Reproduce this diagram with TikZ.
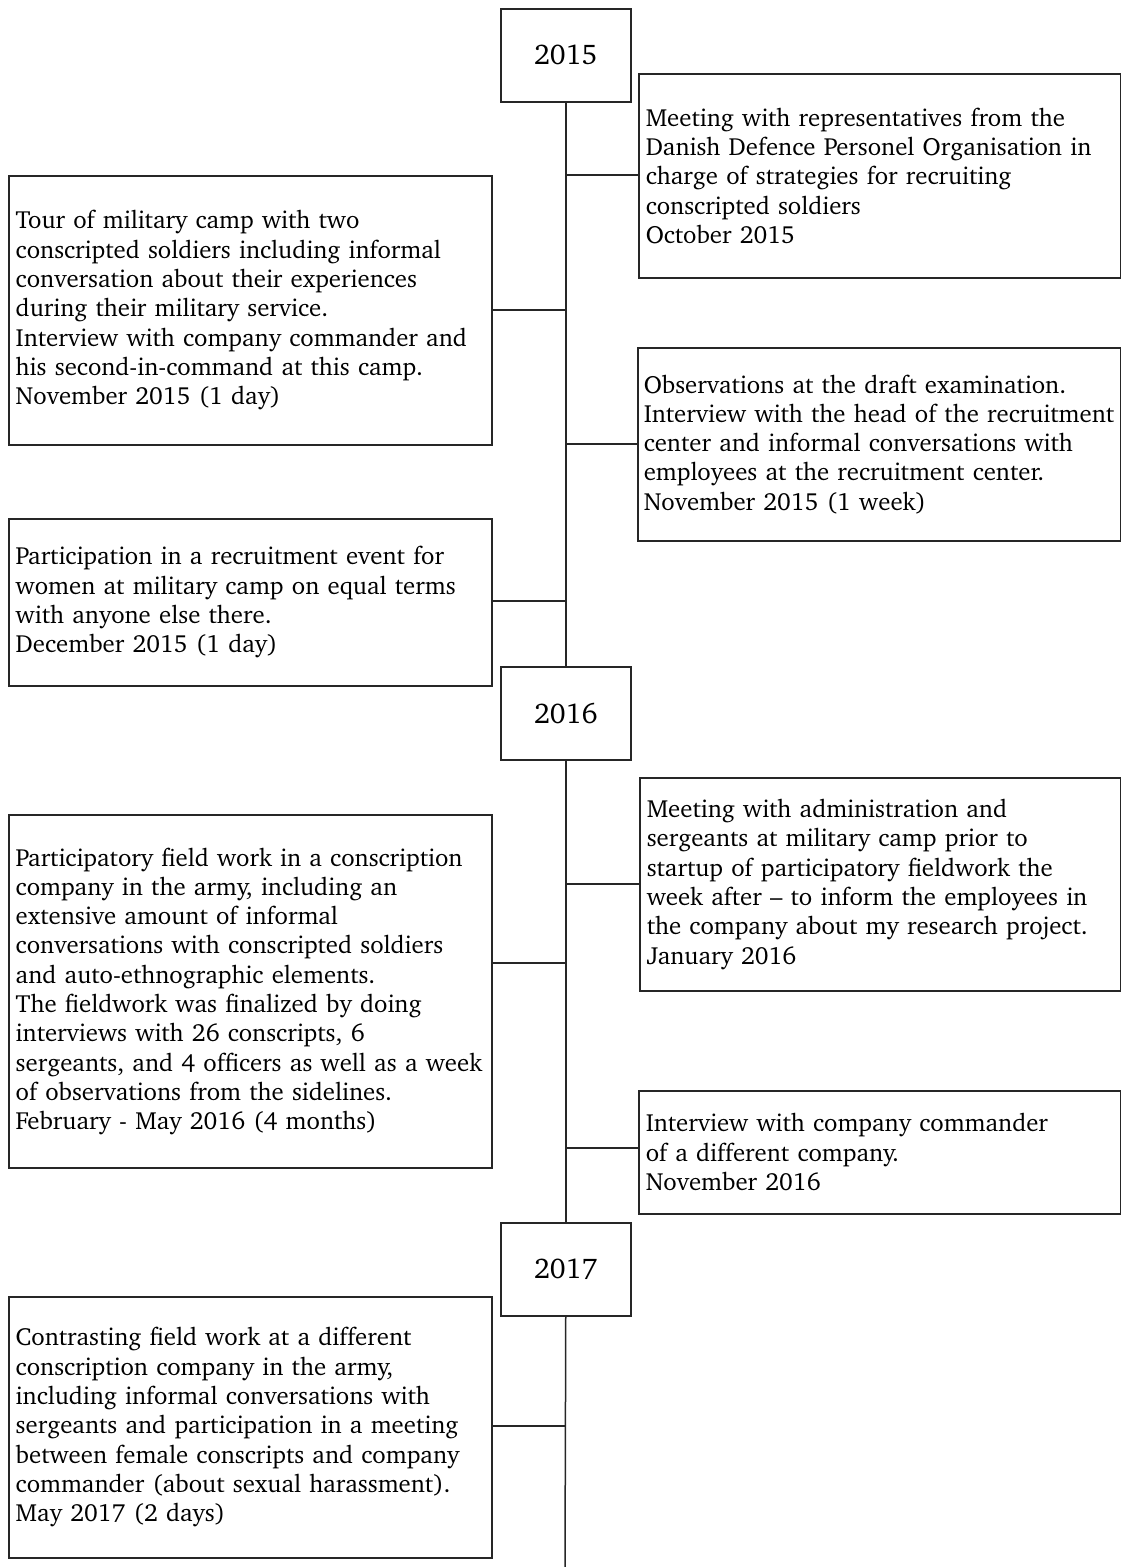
\documentclass[tikz,border=0pt]{standalone}
\usepackage[T1]{fontenc}
\usepackage{charter}
\newcommand{\bodyfont}{\fontsize{24.8}{29.3}\selectfont}
\newcommand{\yearfont}{\fontsize{28.5}{30}\selectfont}
\newcommand{\tline}[1]{\mbox{#1}}
\tikzset{
  ev/.style={draw=black!85, line width=1.5pt, anchor=north west, inner xsep=7pt, inner ysep=0pt, align=left, font=\bodyfont},
  yr/.style={draw=black!85, line width=1.5pt, anchor=north west, font=\yearfont, minimum width=130pt, minimum height=93pt, inner sep=0pt},
  link/.style={draw=black!85, line width=1.5pt}
}
\begin{document}
\begin{tikzpicture}[x=1pt,y=-1pt]
\useasboundingbox (0,0) rectangle (1121,1567);
% year boxes
\node[yr] (y15) at (500,8) {2015};
\node[yr] (y16) at (500,666) {2016};
\node[yr] (y17) at (500,1222) {2017};
% event boxes
\node[ev, text width=468pt, minimum height=204pt] (A) at (638,73) {\tline{Meeting with representatives from the}\\\tline{Danish Defence Personel Organisation in}\\\tline{charge of strategies for recruiting}\\\tline{conscripted soldiers}\\\tline{October 2015}};
\node[ev, text width=469pt, minimum height=269pt] (B) at (8,175) {\tline{Tour of military camp with two}\\\tline{conscripted soldiers including informal}\\\tline{conversation about their experiences}\\\tline{during their military service.}\\\tline{Interview with company commander and}\\\tline{his second-in-command at this camp.}\\\tline{November 2015 (1 day)}};
\node[ev, inner xsep=6pt, text width=471pt, minimum height=193pt] (C) at (637,347) {\tline{Observations at the draft examination.}\\\tline{Interview with the head of the recruitment}\\\tline{center and informal conversations with}\\\tline{employees at the recruitment center.}\\\tline{November 2015 (1 week)}};
\node[ev, text width=469pt, minimum height=167pt] (D) at (8,518) {\tline{Participation in a recruitment event for}\\\tline{women at military camp on equal terms}\\\tline{with anyone else there.}\\\tline{December 2015 (1 day)}};
\node[ev, text width=467pt, minimum height=213pt] (E) at (639,777) {\tline{Meeting with administration and}\\\tline{sergeants at military camp prior to}\\\tline{startup of participatory fieldwork the}\\\tline{week after -- to inform the employees in}\\\tline{the company about my research project.}\\\tline{January 2016}};
\node[ev, text width=469pt, minimum height=353pt] (F) at (8,814) {\tline{Participatory field work in a conscription}\\\tline{company in the army, including an}\\\tline{extensive amount of informal}\\\tline{conversations with conscripted soldiers}\\\tline{and auto-ethnographic elements.}\\\tline{The fieldwork was finalized by doing}\\\tline{interviews with 26 conscripts, 6}\\\tline{sergeants, and 4 officers as well as a week}\\\tline{of observations from the sidelines.}\\\tline{February - May 2016 (4 months)}};
\node[ev, text width=468pt, minimum height=123pt] (G) at (638,1090) {\tline{Interview with company commander}\\\tline{of a different company.}\\\tline{November 2016}};
\node[ev, text width=469pt, minimum height=261pt] (H) at (8,1296) {\tline{Contrasting field work at a different}\\\tline{conscription company in the army,}\\\tline{including informal conversations with}\\\tline{sergeants and participation in a meeting}\\\tline{between female conscripts and company}\\\tline{commander (about sexual harassment).}\\\tline{May 2017 (2 days)}};
% spine
\coordinate (end) at (565,1567);
\draw[link] (y15.south) -- (y16.north);
\draw[link] (y16.south) -- (y17.north);
\draw[link] (y17.south) -- (end);
% junctions
\coordinate (jA) at (565,175);
\coordinate (jB) at (565,310);
\coordinate (jC) at (565,444);
\coordinate (jD) at (565,601);
\coordinate (jE) at (565,884);
\coordinate (jF) at (565,963);
\coordinate (jG) at (565,1148);
\coordinate (jH) at (565,1426);
\draw[link] (jA) -- (jA -| A.west);
\draw[link] (jB) -- (jB -| B.east);
\draw[link] (jC) -- (jC -| C.west);
\draw[link] (jD) -- (jD -| D.east);
\draw[link] (jE) -- (jE -| E.west);
\draw[link] (jF) -- (jF -| F.east);
\draw[link] (jG) -- (jG -| G.west);
\draw[link] (jH) -- (jH -| H.east);
\end{tikzpicture}
\end{document}
